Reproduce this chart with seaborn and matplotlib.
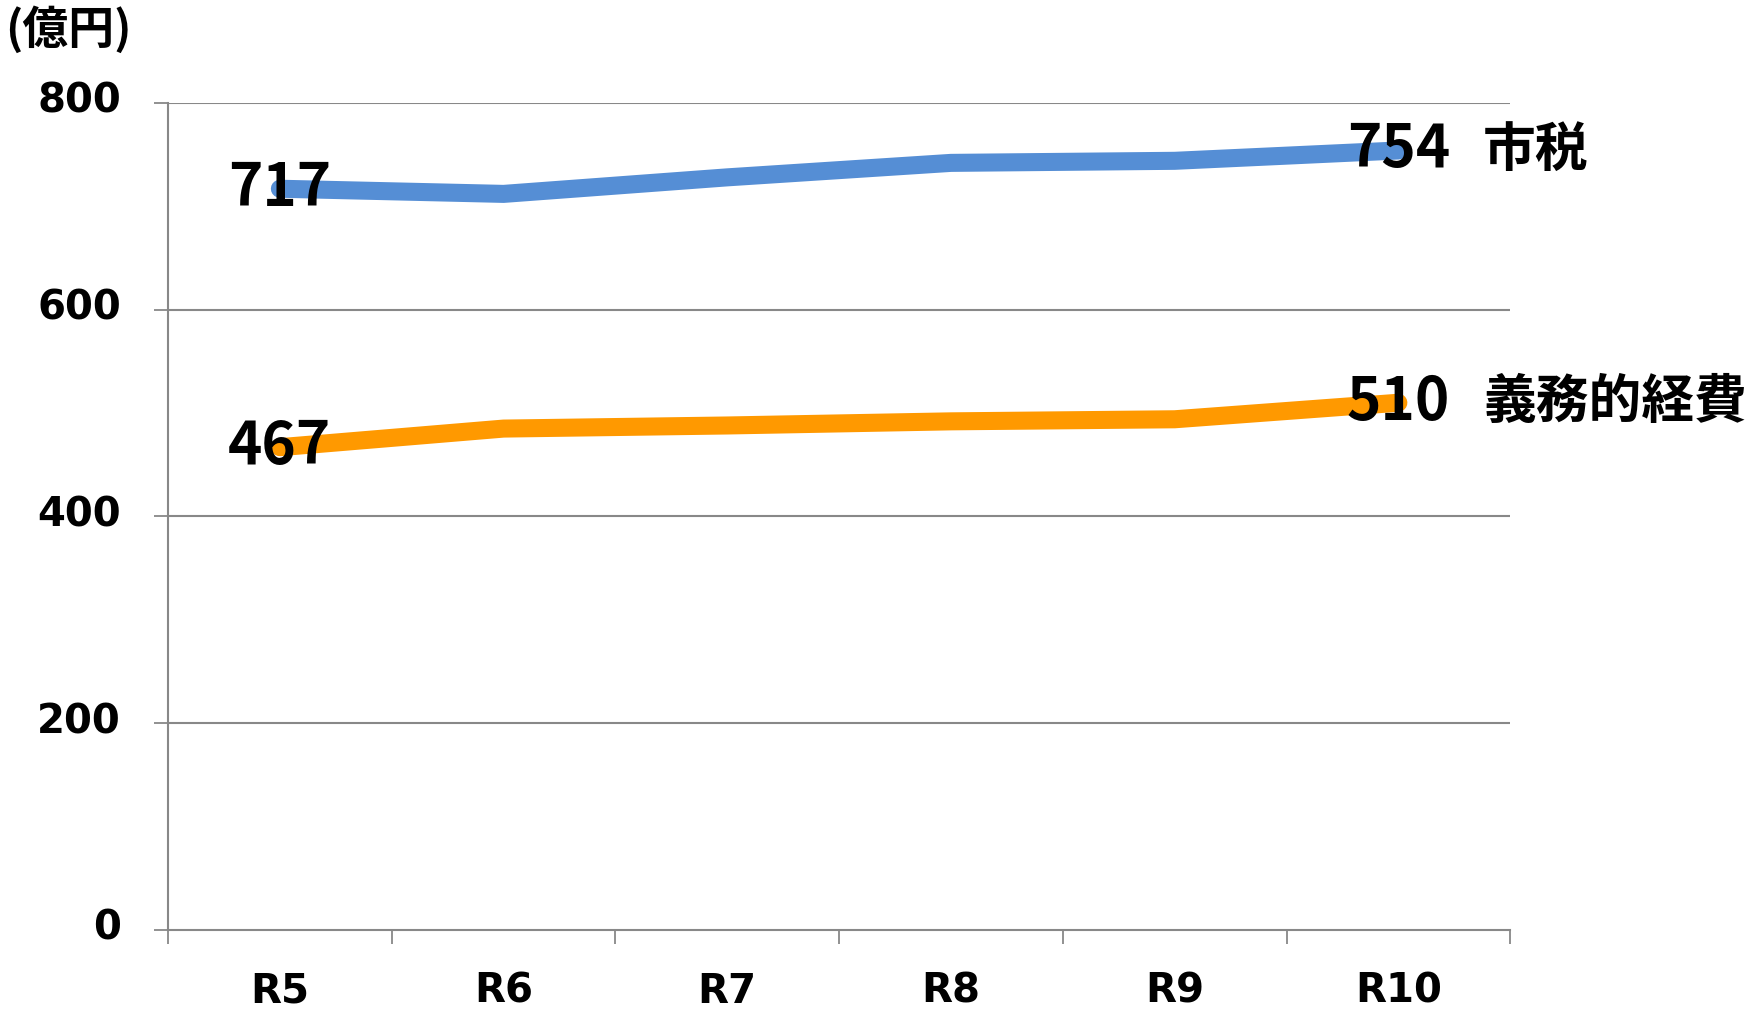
import matplotlib
matplotlib.use("Agg")
import matplotlib.pyplot as plt
from matplotlib.transforms import ScaledTranslation
import seaborn as sns
import pandas as pd
import numpy as np

categories = ["R5", "R6", "R7", "R8", "R9", "R10"]
tax_values = [717, 712, 728, 742, 744, 754]
duty_values = [467, 485, 488, 492, 494, 510]
series_names = ["市税", "義務的経費"]
y_ticks = [0, 200, 400, 600, 800]
unit_label = "(億円)"

colors = {"市税": "#558ED5", "義務的経費": "#FF9900"}

df = pd.DataFrame({
    "year": categories * 2,
    "pos": list(range(len(categories))) * 2,
    "value": tax_values + duty_values,
    "series": [series_names[0]] * len(categories) + [series_names[1]] * len(categories),
})

sns.set_theme(style="white")
plt.rcParams["font.family"] = ["DejaVu Sans", "Noto Sans CJK JP"]
plt.rcParams["text.color"] = "black"
plt.rcParams["xtick.color"] = "black"
plt.rcParams["ytick.color"] = "black"

fig = plt.figure(figsize=(17.52, 10.09), dpi=100)
ax = fig.add_axes([0.0959, 0.0783, 0.862 - 0.0959, 0.898 - 0.0783])

sns.lineplot(data=df, x="pos", y="value", hue="series", palette=colors,
             linewidth=13, ax=ax, legend=False, solid_capstyle="round")

ax.set_xlim(-0.5, len(categories) - 0.5)
ax.set_ylim(0, 800)
ax.set_yticks(y_ticks)
ax.set_yticklabels([str(v) for v in y_ticks], fontsize=29, fontweight="bold",
                   family="DejaVu Sans", color="black")
ax.set_xticks(range(len(categories)))
ax.set_xticklabels(categories, fontsize=29, fontweight="bold", family="DejaVu Sans",
                   color="black")
ax.set_xticks(np.arange(-0.5, len(categories)), minor=True)
ax.tick_params(axis="x", which="major", bottom=True, length=0, pad=30, labelcolor="black")
ax.tick_params(axis="x", which="minor", bottom=True, length=10, width=1.3, color="#888888")
ax.tick_params(axis="y", which="major", left=True, length=10, width=1.3, color="#888888",
               pad=24, labelcolor="black")
ax.set_xlabel("")
ax.set_ylabel("")

shift = ScaledTranslation(0, 4 / 72, fig.dpi_scale_trans)
for lbl in ax.get_yticklabels():
    lbl.set_transform(lbl.get_transform() + shift)

for v in y_ticks[1:]:
    ax.axhline(v, color="#888888", linewidth=1.5, zorder=0)
for side in ["top", "right"]:
    ax.spines[side].set_visible(False)
for side in ["left", "bottom"]:
    ax.spines[side].set_color("#888888")
    ax.spines[side].set_linewidth(1.5)

jp = ["Noto Sans CJK JP", "DejaVu Sans"]
for vals in (tax_values, duty_values):
    ax.text(0, vals[0], str(vals[0]), ha="center", va="center", fontsize=42,
            fontweight="bold", family=jp, color="black")
    ax.text(len(categories) - 1, vals[-1], str(vals[-1]), ha="center", va="center",
            fontsize=42, fontweight="bold", family=jp, color="black")
for name, vals in zip(series_names, (tax_values, duty_values)):
    ax.annotate(name, (len(categories) - 1, vals[-1]), xytext=(61, 0),
                textcoords="offset points", ha="left", va="center", fontsize=38,
                fontweight="bold", family=jp, color="black", annotation_clip=False)

fig.text(0.003, 0.97, unit_label, ha="left", va="center", fontsize=33,
         fontweight="bold", family=jp, color="black")

fig.savefig("out.png", dpi=100)
